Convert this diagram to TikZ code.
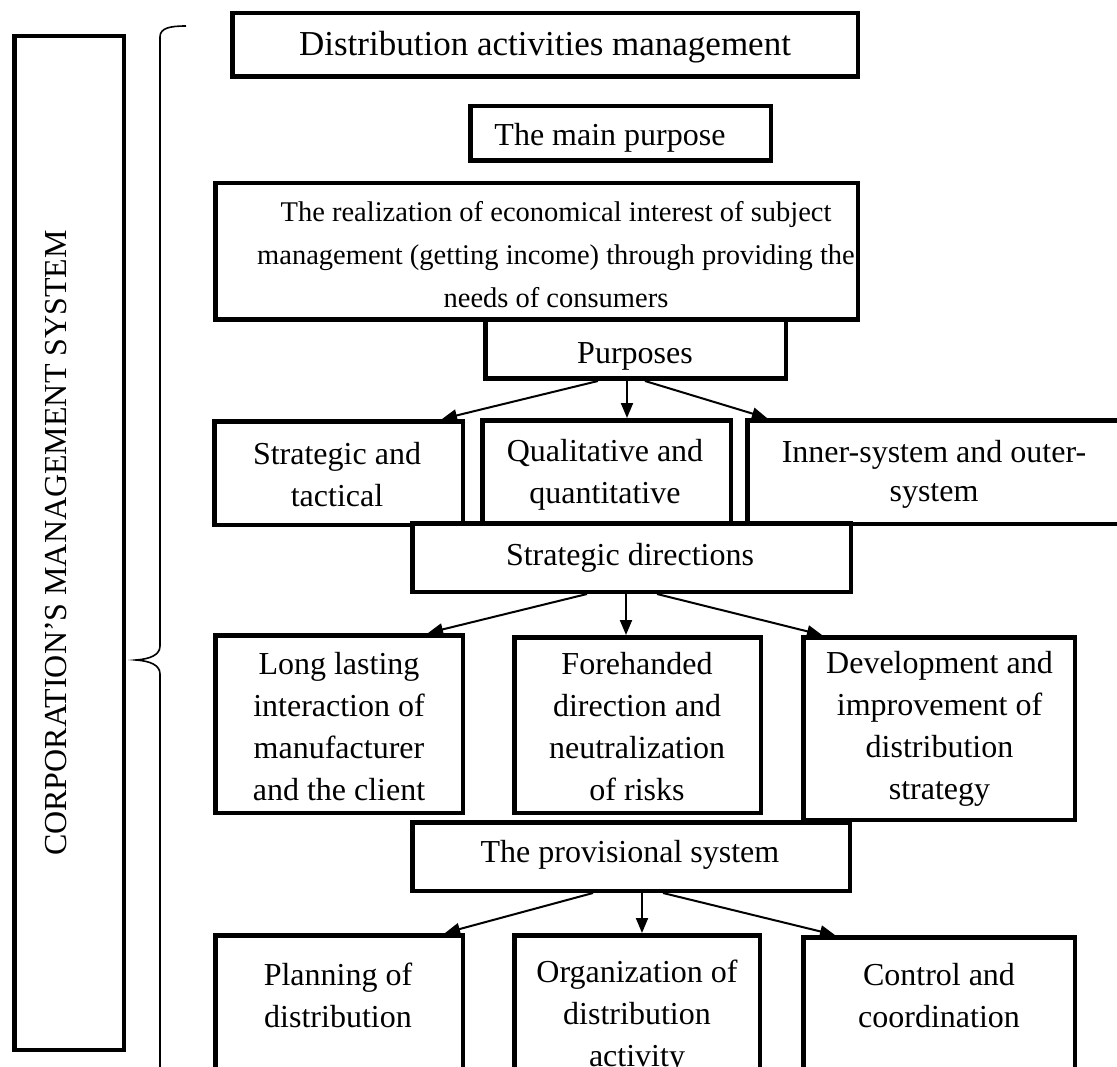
\documentclass[tikz,border=0pt]{standalone}
\usepackage{fontspec}
\setmainfont{Liberation Serif}
\usetikzlibrary{arrows.meta}
\begin{document}
\begin{tikzpicture}[x=1pt,y=-1pt,
  box/.style={draw, line width=4.5pt, fill=white, inner sep=0pt},
  txt/.style={font=\fontsize{32}{42}\selectfont, align=center, anchor=base, inner sep=0pt},
  arr/.style={line width=2pt, -{Triangle[length=15pt,width=12pt]}},
  bracepath/.style={line width=1.6pt}]
\useasboundingbox (0,0) rectangle (1117,1067);
\clip (0,0) rectangle (1117,1067);
\fill[white] (0,0) rectangle (1117,1067);

% left system box
\node[box, minimum width=109.5pt, minimum height=1013.5pt] (sys) at (69,543) {};
\node[txt, rotate=90, anchor=center] (syst) at (56,543) {CORPORATION’S MANAGEMENT SYSTEM};

% brace
\draw[bracepath] (186,26) .. controls (170,26) and (160,28) .. (160,37) -- (160,646)
  .. controls (160,655) and (150,659) .. (136,660)
  .. controls (150,661) and (160,665) .. (160,674) -- (160,1080);

% top boxes
\node[box, minimum width=625.5pt, minimum height=63.5pt] (dam) at (545,45) {};
\node[txt, font=\fontsize{35}{42}\selectfont] (damt) at (545,56) {Distribution activities management};

\node[box, minimum width=300.5pt, minimum height=54.5pt] (mp) at (620.5,133.5) {};
\node[txt] (mpt) at (610,146) {The main purpose};

\node[box, minimum width=642.5pt, minimum height=136.5pt] (re) at (536.5,251.5) {};
\node[txt, font=\fontsize{28.5}{43}\selectfont] (ret) at (556,308) {The realization of economical interest of subject\\management (getting income) through providing the\\needs of consumers};

\node[box, minimum width=300.5pt, minimum height=58.5pt] (pu) at (635.5,349.5) {};
\node[txt] (put) at (635,363) {Purposes};

% row 2
\node[box, minimum width=248.5pt, minimum height=103.5pt] (st) at (338.5,473) {};
\node[txt] (stt) at (337,506) {Strategic and\\tactical};

\node[box, minimum width=248.5pt, minimum height=104.5pt] (ql) at (606.5,472.5) {};
\node[txt] (qlt) at (605,503) {Qualitative and\\quantitative};

\node[box, minimum width=380.5pt, minimum height=103.5pt] (io) at (937.5,472) {};
\node[txt, font=\fontsize{32}{39}\selectfont] (iot) at (934,501) {Inner-system and outer-\\system};

\node[box, minimum width=438.5pt, minimum height=68.5pt] (sd) at (631.5,557.5) {};
\node[txt] (sdt) at (630,565) {Strategic directions};

% row 3
\node[box, minimum width=247.5pt, minimum height=177.5pt] (ll) at (339,724) {};
\node[txt] (llt) at (339,800) {Long lasting\\interaction of\\manufacturer\\and the client};

\node[box, minimum width=246.5pt, minimum height=175.5pt] (fh) at (637.5,725) {};
\node[txt] (fht) at (637,800) {Forehanded\\direction and\\neutralization\\of risks};

\node[box, minimum width=271.5pt, minimum height=182.5pt] (dv) at (939,728.5) {};
\begin{scope}
\clip (801,635) rectangle (1077,807);
\node[txt] (dvt) at (939.5,799) {Development and\\improvement of\\distribution\\strategy};
\end{scope}

\node[box, minimum width=437.5pt, minimum height=68.5pt] (ps) at (631,856.5) {};
\node[txt] (pst) at (630,862) {The provisional system};

% row 4
\node[box, minimum width=247.5pt, minimum height=162.5pt] (pl) at (339,1016.5) {};
\node[txt] (plt) at (338,1027) {Planning of\\distribution};

\node[box, minimum width=245.5pt, minimum height=162.5pt] (og) at (637,1016.5) {};
\node[txt] (ogt) at (637,1066) {Organization of\\distribution\\activity};

\node[box, minimum width=271.5pt, minimum height=160.5pt] (cc) at (939,1017.5) {};
\node[txt] (cct) at (939,1027) {Control and\\coordination};

% arrows
\draw[arr] ([xshift=-37.5pt]pu.south) -- ([xshift=-23pt]st.north east);
\draw[arr] ([xshift=-8.5pt]pu.south) -- ([xshift=-8.5pt]pu.south |- ql.north);
\draw[arr] ([xshift=9.5pt]pu.south) -- ([xshift=22pt]io.north west);

\draw[arr] ([xshift=-44.5pt]sd.south) -- ([xshift=-37pt]ll.north east);
\draw[arr] ([xshift=-5.5pt]sd.south) -- ([xshift=-5.5pt]sd.south |- fh.north);
\draw[arr] ([xshift=25.5pt]sd.south) -- ([xshift=21pt]dv.north west);

\draw[arr] ([xshift=-38pt]ps.south) -- ([xshift=-20pt]pl.north east);
\draw[arr] ([xshift=11pt]ps.south) -- ([xshift=11pt]ps.south |- og.north);
\draw[arr] ([xshift=32pt]ps.south) -- ([xshift=34pt]cc.north west);
\end{tikzpicture}
\end{document}
